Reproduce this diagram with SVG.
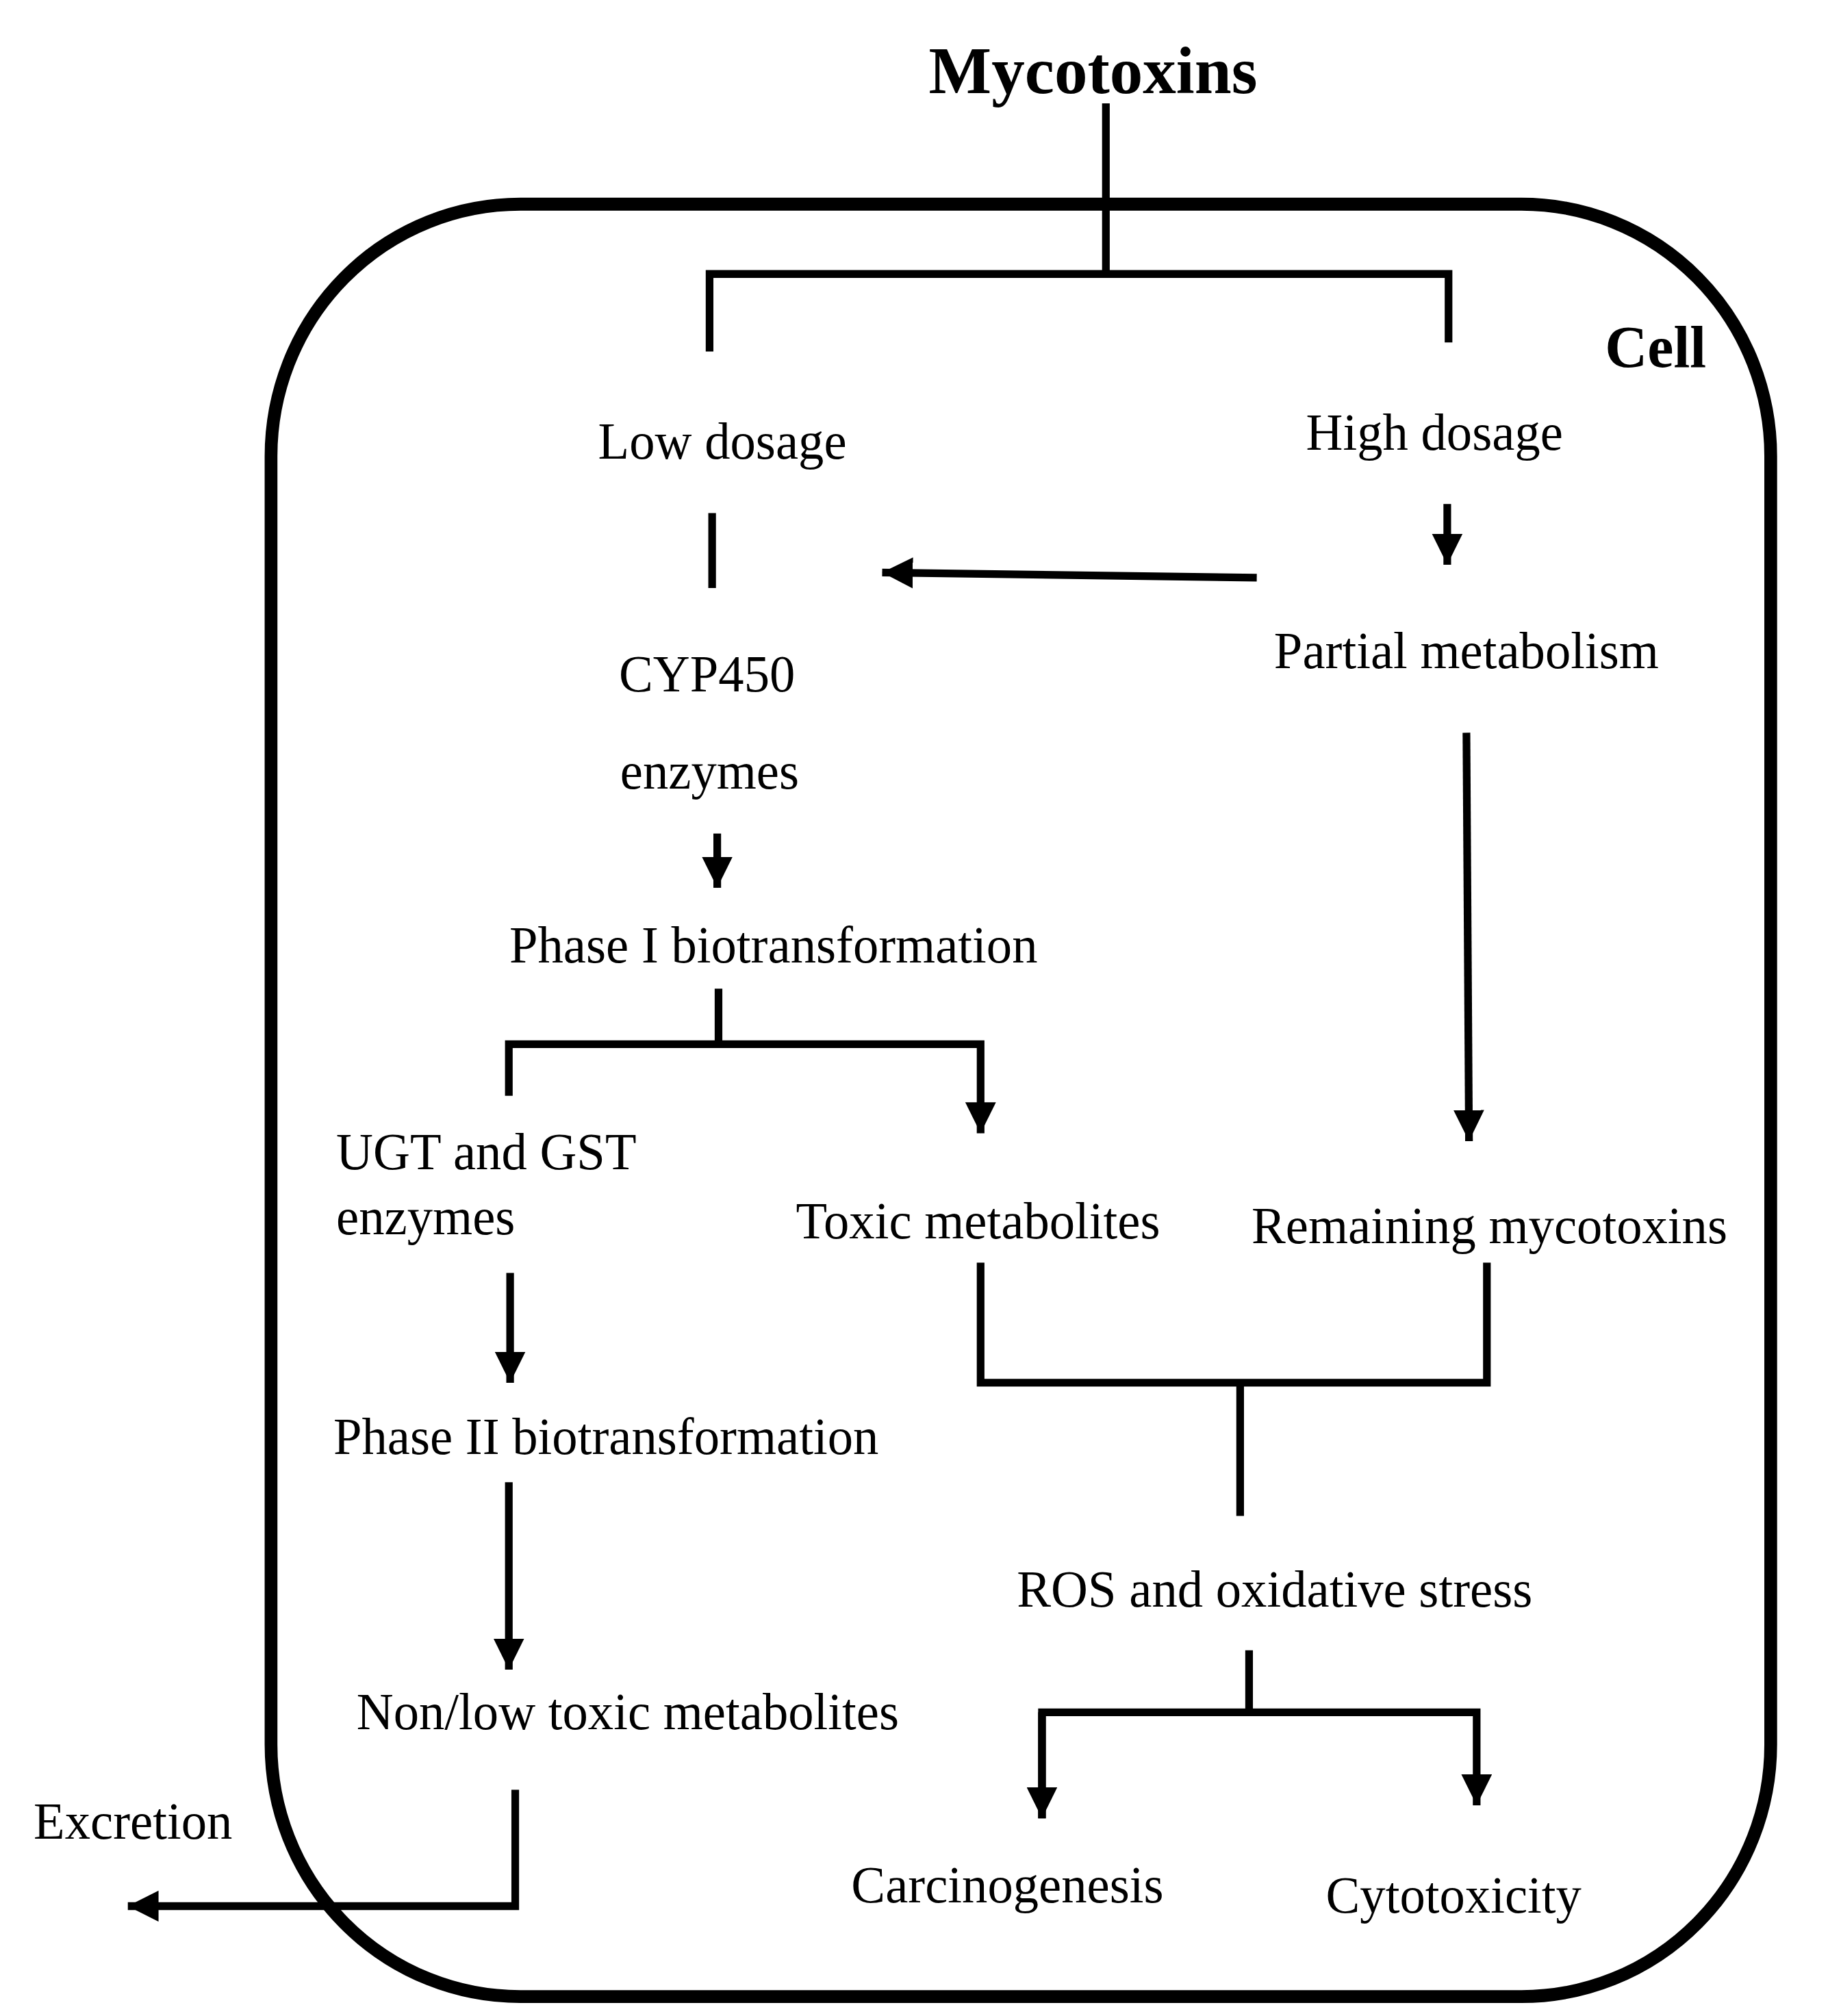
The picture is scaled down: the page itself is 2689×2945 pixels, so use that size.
<svg xmlns="http://www.w3.org/2000/svg" width="2689" height="2945" viewBox="0 0 2689 2945">
<defs>
<style>
.l{fill:none;stroke:#000;stroke-width:6}
.t{font-family:"Liberation Serif",serif;font-size:40px;fill:#000}
.b{font-family:"Liberation Serif",serif;font-weight:bold;fill:#000}
</style>
<marker id="a" markerUnits="strokeWidth" markerWidth="4" markerHeight="4" refX="4" refY="2" orient="auto"><path d="M0,0L4,2L0,4z" fill="#000"/></marker>
</defs>
<rect width="2689" height="2945" fill="#fff"/>
<g transform="scale(1.8674 1.8878)">
<g id="cell"><rect x="212" y="158" width="1173" height="1387" rx="195" ry="195" fill="none" stroke="#000" stroke-width="10"/>
<text class="b" x="1295" y="284" font-size="46" text-anchor="middle">Cell</text></g>
<g id="connectors">
<path class="l" d="M865,80V212M555,272V212H1133V265"/>
<path class="l" d="M557,397V455"/>
<path class="l" d="M983,447L690,443" marker-end="url(#a)"/>
<path class="l" d="M1132,390V437" marker-end="url(#a)"/>
<path class="l" d="M561,645V687" marker-end="url(#a)"/>
<path class="l" d="M562,765V808M398,848V808H767V877" marker-end="url(#a)"/>
<path class="l" d="M1147,567L1149,883" marker-end="url(#a)"/>
<path class="l" d="M399,985V1070" marker-end="url(#a)"/>
<path class="l" d="M398,1147V1292" marker-end="url(#a)"/>
<path class="l" d="M767,977V1070H1163V977M970,1070V1173"/>
<path class="l" d="M977,1277V1325M815,1407V1325H1155V1397" marker-end="url(#a)"/>
<path class="l" d="M815,1325V1407" marker-end="url(#a)"/>
<path class="l" d="M403,1385V1475H100" marker-end="url(#a)"/>
</g>
<g id="mycotoxins"><text class="b" x="855" y="72" font-size="52" text-anchor="middle">Mycotoxins</text></g>
<g id="low"><text class="t" x="565" y="355" text-anchor="middle">Low dosage</text></g>
<g id="high"><text class="t" x="1122" y="348" text-anchor="middle">High dosage</text></g>
<g id="partial"><text class="t" x="1147" y="517" text-anchor="middle">Partial metabolism</text></g>
<g id="cyp"><text class="t" x="553" y="535" text-anchor="middle">CYP450</text><text class="t" x="555" y="610" text-anchor="middle">enzymes</text></g>
<g id="phase1"><text class="t" x="605" y="745" text-anchor="middle">Phase I biotransformation</text></g>
<g id="ugt"><text class="t" x="263" y="905">UGT and GST</text><text class="t" x="263" y="955">enzymes</text></g>
<g id="toxic"><text class="t" x="765" y="958" text-anchor="middle">Toxic metabolites</text></g>
<g id="remaining"><text class="t" x="1165" y="962" text-anchor="middle">Remaining mycotoxins</text></g>
<g id="phase2"><text class="t" x="474" y="1125" text-anchor="middle">Phase II biotransformation</text></g>
<g id="nonlow"><text class="t" x="491" y="1338" text-anchor="middle">Non/low toxic metabolites</text></g>
<g id="ros"><text class="t" x="997" y="1243" text-anchor="middle">ROS and oxidative stress</text></g>
<g id="carc"><text class="t" x="788" y="1472" text-anchor="middle">Carcinogenesis</text></g>
<g id="cyto"><text class="t" x="1137" y="1480" text-anchor="middle">Cytotoxicity</text></g>
<g id="excretion"><text class="t" x="104" y="1423" text-anchor="middle">Excretion</text></g>
</g>
</svg>
